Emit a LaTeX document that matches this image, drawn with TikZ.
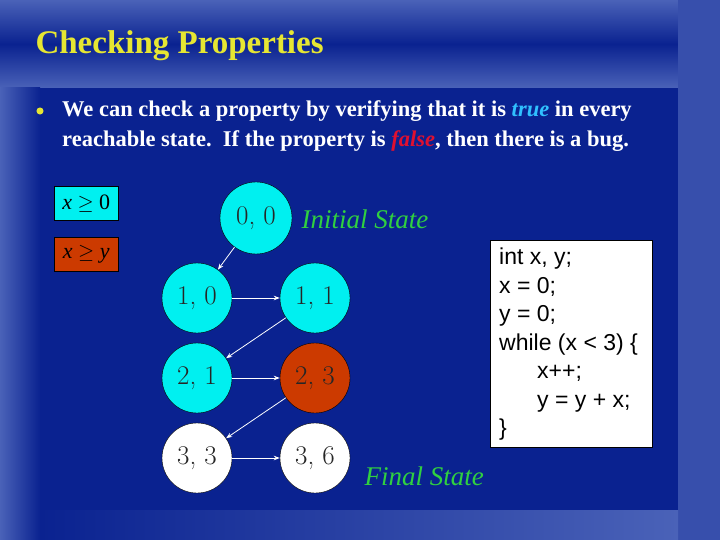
\documentclass[tikz,border=0pt]{standalone}
\usepackage{fontspec}
\setmainfont{Liberation Serif}
\newfontfamily\codefont{Liberation Sans}
\newfontfamily\lmfont{Latin Modern Roman}
\usetikzlibrary{arrows.meta}
\definecolor{bg}{HTML}{0A2290}
\definecolor{band}{HTML}{4A62B8}
\definecolor{ttl}{HTML}{E6E632}
\definecolor{cy}{HTML}{00F0F0}
\definecolor{rust}{HTML}{CC3A00}
\definecolor{grn}{HTML}{30D040}
\definecolor{tblue}{HTML}{30C0FF}
\definecolor{fred}{HTML}{E01030}
\begin{document}
\begin{tikzpicture}[x=1pt,y=-1pt,
  st/.style={circle,draw=black,minimum size=70pt,inner sep=0pt,font=\lmfont\fontsize{27}{27}\selectfont,text=black!85},
  arr/.style={draw=white,thick,-{Stealth[length=6pt]}},
  lbl/.style={font=\fontsize{27}{27}\selectfont\itshape,text=grn,anchor=west},
  leg/.style={draw=black,minimum width=64pt,minimum height=34pt,inner sep=0pt,font=\fontsize{22}{22}\selectfont}]
\useasboundingbox (0,0) rectangle (720,540);
\fill[bg] (0,0) rectangle (720,540);
\shade[top color=band,bottom color=band,middle color=bg] (0,0) rectangle (678,88);
\fill[band!70!bg] (678,0) rectangle (720,540);
\shade[left color=band,right color=bg] (0,88) rectangle (40,540);
\shade[left color=bg,right color=band] (40,510) rectangle (678,540);
\node[anchor=west,text=ttl,font=\fontsize{33}{33}\selectfont\bfseries] (title) at (32,46) {Checking Properties};
\node[circle,fill=ttl,inner sep=2.5pt] (bul) at (40,111) {};
\node[anchor=north west,text=white,font=\fontsize{22.5}{30}\selectfont\bfseries,align=left,inner sep=0pt] (body) at (62,100)
 {We can check a property by verifying that it is {\itshape\color{tblue}true} in every\\reachable state.\ \ If the property is {\itshape\color{fred}false}, then there is a bug.};
\node[leg,fill=cy,anchor=north west] (l1) at (54,186) {\textit{x} ${\geq}$ 0};
\node[leg,fill=rust,anchor=north west] (l2) at (54,237) {\textit{x} ${\geq}$ \textit{y}};
\node[st,fill=cy,minimum height=72pt] (s00) at (256,218) {0, 0};
\node[st,fill=cy] (s10) at (197,298) {1, 0};
\node[st,fill=cy] (s11) at (315,298) {1, 1};
\node[st,fill=cy] (s21) at (197,378) {2, 1};
\node[st,fill=rust] (s23) at (315,378) {2, 3};
\node[st,fill=white] (s33) at (197,458) {3, 3};
\node[st,fill=white] (s36) at (315,458) {3, 6};
\node[lbl] (init) at (298,219) {Initial State};
\node[lbl] (fin) at (361,476) {Final State};
\draw[arr] (s00) -- (s10);
\draw[arr] (s10) -- (s11);
\draw[arr] (s11) -- (s21);
\draw[arr] (s21) -- (s23);
\draw[arr] (s23) -- (s33);
\draw[arr] (s33) -- (s36);
\node[draw=black,fill=white,anchor=north west,minimum width=162pt,minimum height=207pt,inner sep=0pt] (code) at (490,240) {};
\node[anchor=north west,align=left,inner sep=0pt,font=\codefont\fontsize{23}{28.5}\selectfont] (ctext) at (499,248)
 {int x, y;\\x = 0;\\y = 0;\\while (x < 3) \{\\\hspace*{38pt}x++;\\\hspace*{38pt}y = y + x;\\\}};
\end{tikzpicture}
\end{document}
